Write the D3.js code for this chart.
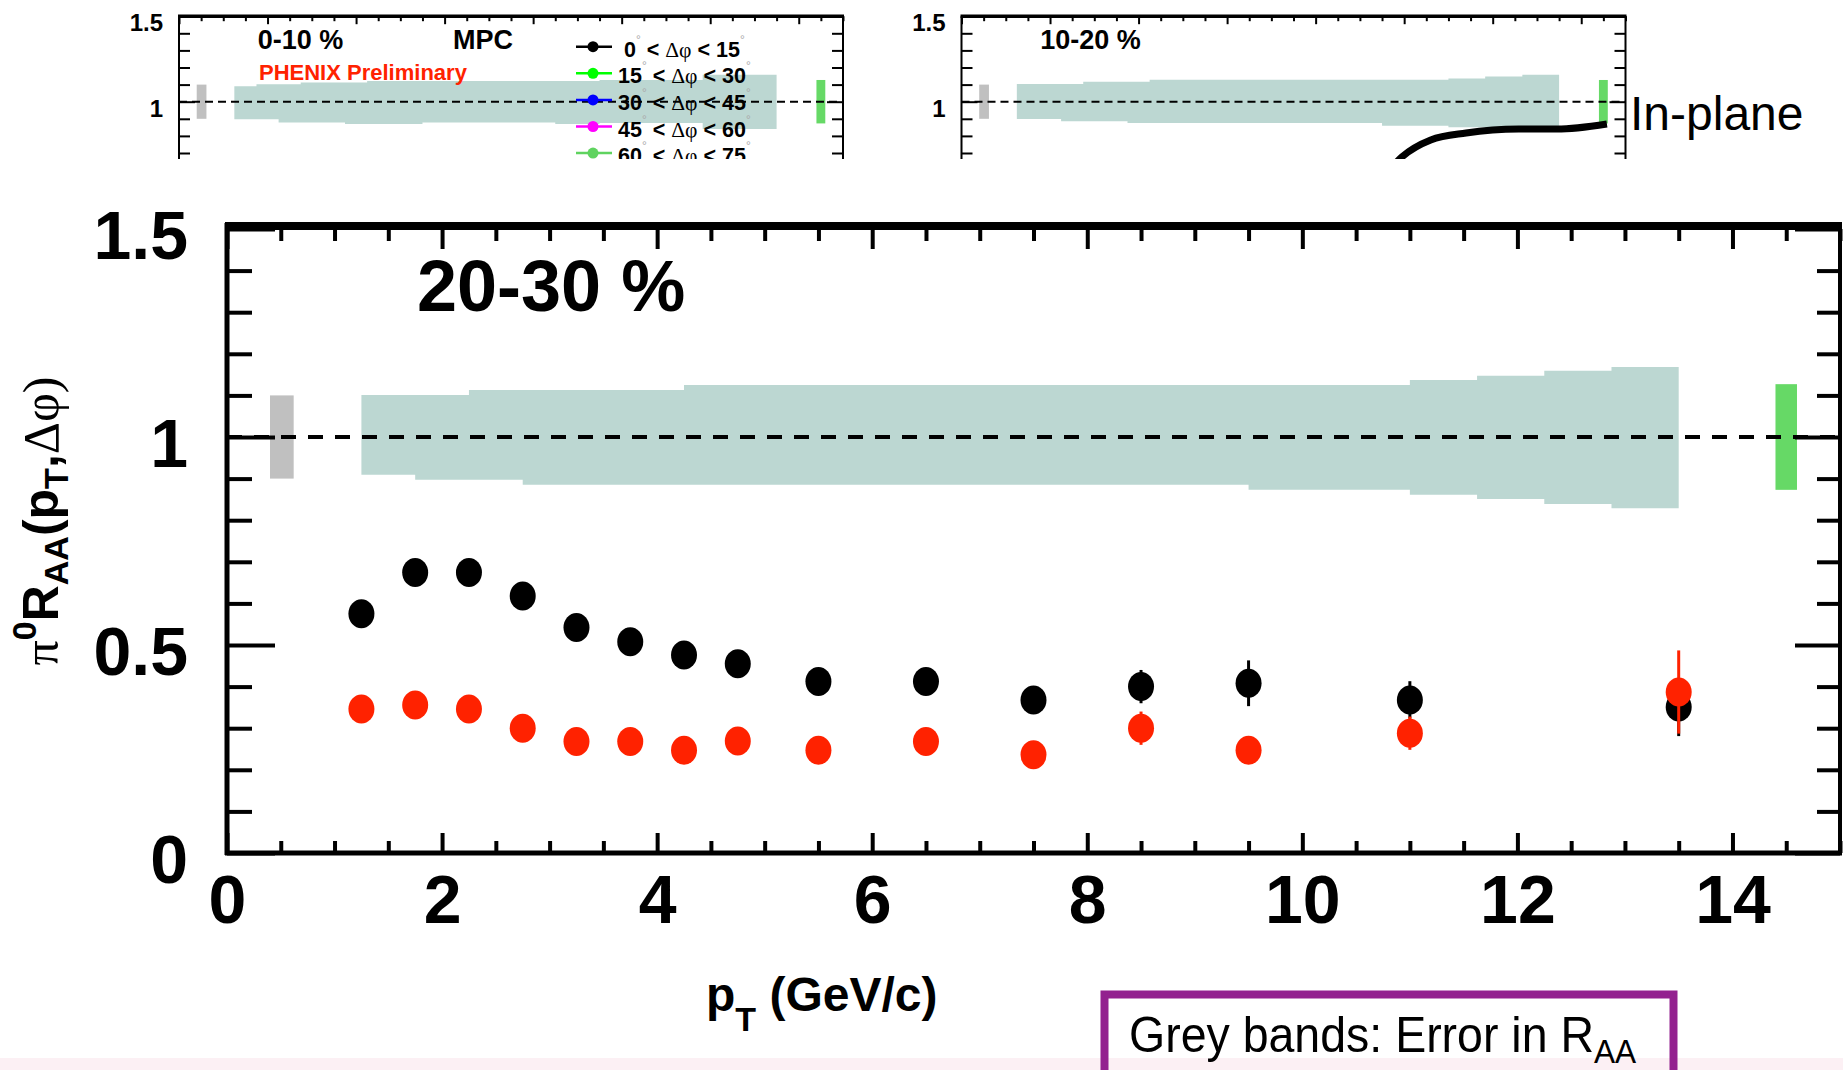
<!DOCTYPE html>
<html>
<head>
<meta charset="utf-8">
<script src="https://cdn.jsdelivr.net/npm/d3@7"></script>
<style>
html, body { margin: 0; padding: 0; background: #fff; }
svg { display: block; }
</style>
</head>
<body>
<svg id="chart" width="1843" height="1070"></svg>
<script>
const W = 1843, H = 1070;
const svg = d3.select("#chart");

const FONT = '"Liberation Sans", Arial, Helvetica, sans-serif';
const SERIF = '"Liberation Serif", "Times New Roman", serif';

// pT bin centres and R_AA values, 20-30 % main panel
const ptBins = [1.25, 1.75, 2.25, 2.75, 3.25, 3.75, 4.25, 4.75, 5.5, 6.5, 7.5, 8.5, 9.5, 11, 13.5];
const raaInPlane = [0.575, 0.674, 0.674, 0.618, 0.542, 0.508, 0.476, 0.455, 0.412, 0.412, 0.368, 0.400, 0.408, 0.368, 0.351];
const raaInPlaneErr = [0.015, 0.015, 0.015, 0.015, 0.015, 0.015, 0.015, 0.015, 0.015, 0.015, 0.02, 0.04, 0.055, 0.045, 0.07];
const raaOutPlane = [0.346, 0.356, 0.346, 0.300, 0.268, 0.268, 0.247, 0.269, 0.247, 0.268, 0.236, 0.300, 0.247, 0.288, 0.387];
const raaOutPlaneErr = [0.015, 0.015, 0.015, 0.015, 0.015, 0.015, 0.015, 0.015, 0.015, 0.015, 0.02, 0.04, 0.02, 0.04, 0.1];

// R_AA error band (step edges, upper and lower)
const mainBandEdges = [1.25, 1.75, 2.25, 2.75, 4.25, 9.5, 11, 11.625, 12.25, 12.875, 13.5];
const mainBandHi = [1.101, 1.101, 1.113, 1.113, 1.125, 1.125, 1.137, 1.147, 1.159, 1.168];
const mainBandLo = [0.909, 0.897, 0.897, 0.885, 0.885, 0.873, 0.861, 0.851, 0.839, 0.829];

const band010Edges = [1.25, 1.75, 2.25, 2.75, 3.75, 4.25, 5.5, 8.5, 9.5, 11.83, 13.5];
const band010Hi = [1.090, 1.102, 1.102, 1.113, 1.113, 1.121, 1.121, 1.121, 1.127, 1.157];
const band010Lo = [0.897, 0.897, 0.879, 0.879, 0.870, 0.870, 0.879, 0.870, 0.875, 0.840];

const band1020Edges = [1.25, 2.25, 2.75, 3.75, 4.25, 9.5, 11, 11.83, 12.67, 13.5];
const band1020Hi = [1.103, 1.103, 1.116, 1.116, 1.128, 1.128, 1.136, 1.147, 1.157];
const band1020Lo = [0.899, 0.886, 0.886, 0.876, 0.876, 0.860, 0.851, 0.841, 0.841];

// global normalisation boxes: [x0, x1, lo, hi]
const greyBox = [0.4, 0.62, 0.9, 1.1];
const greenBox = [14.4, 14.6, 0.873, 1.127];

// legend of the 0-10 % panel
const legendLo = [0, 15, 30, 45, 60];
const legendHi = [15, 30, 45, 60, 75];
const legendColors = ["#000000", "#00ff00", "#0000ff", "#ff00ff", "#5fd35f"];

// "In-plane" pointer curve, in 10-20 % panel coordinates
const pointerCurve = [[9.5, 0.55], [9.95, 0.677], [10.6, 0.776], [11.4, 0.817], [12.59, 0.840], [13.45, 0.840], [14.58, 0.870]];

const xMajor = d3.range(0, 15, 2);
const xMinor = d3.range(0, 15.001, 0.5).filter(v => Math.abs(v % 2) > 1e-9);
const yMajor = [0, 0.5, 1, 1.5];
const yMinor = d3.range(0, 16).map(v => v / 10).filter(v => Math.abs((v * 10) % 5) > 1e-9);

function stepArea(sx, sy, edges, hi, lo) {
  const pts = edges.map((e, i) => ({
    x: e,
    hi: hi[Math.min(i, hi.length - 1)],
    lo: lo[Math.min(i, lo.length - 1)]
  }));
  return d3.area().curve(d3.curveStepAfter)
    .x(d => sx(d.x)).y0(d => sy(d.lo)).y1(d => sy(d.hi))(pts);
}

function drawAxis(g, gen, pos, values, size, strokeW, fmt) {
  const a = g.append("g").attr("transform", pos)
    .call(gen.tickValues(values).tickSize(size).tickFormat(fmt || ""));
  a.select(".domain").remove();
  a.selectAll(".tick line").attr("stroke", "#000").attr("stroke-width", strokeW);
  return a;
}

// ---------- top row panels (cropped) ----------
svg.append("clipPath").attr("id", "topClip")
  .append("rect").attr("x", 0).attr("y", 0).attr("width", W).attr("height", 159);

function drawPanel(left, edges, hi, lo, title) {
  const px = d3.scaleLinear().domain([0, 15]).range([left, left + 664]);
  const py = d3.scaleLinear().domain([0, 1.5]).range([101.7 + 171, 16.2]);
  const g = svg.append("g").attr("clip-path", "url(#topClip)");

  g.append("path").attr("d", stepArea(px, py, edges, hi, lo)).attr("fill", "#bcd7d2");
  g.append("rect").attr("x", px(greyBox[0])).attr("width", px(greyBox[1]) - px(greyBox[0]))
    .attr("y", py(greyBox[3])).attr("height", py(greyBox[2]) - py(greyBox[3])).attr("fill", "#c0c0c0");
  g.append("rect").attr("x", px(greenBox[0])).attr("width", px(greenBox[1]) - px(greenBox[0]))
    .attr("y", py(greenBox[3])).attr("height", py(greenBox[2]) - py(greenBox[3])).attr("fill", "#66d966");
  g.append("line").attr("x1", px(0)).attr("x2", px(15)).attr("y1", py(1)).attr("y2", py(1))
    .attr("stroke", "#000").attr("stroke-width", 2).attr("stroke-dasharray", "8 5");

  drawAxis(g, d3.axisTop(px), `translate(0,${py(1.5)})`, xMajor, -8, 2);
  drawAxis(g, d3.axisTop(px), `translate(0,${py(1.5)})`, xMinor, -5, 2);
  const yl = drawAxis(g, d3.axisLeft(py), `translate(${px(0)},0)`, [1, 1.5], -16, 2, d => String(d));
  yl.selectAll(".tick text").attr("x", -16).attr("dy", "0.6em")
    .attr("font-family", FONT).attr("font-weight", "bold").attr("font-size", 24).attr("fill", "#000");
  drawAxis(g, d3.axisLeft(py), `translate(${px(0)},0)`, yMinor, -11, 2);
  drawAxis(g, d3.axisRight(py), `translate(${px(15)},0)`, [1, 1.5], -16, 2);
  drawAxis(g, d3.axisRight(py), `translate(${px(15)},0)`, yMinor, -11, 2);

  g.append("line").attr("x1", px(0) - 1).attr("x2", px(15) + 1).attr("y1", py(1.5)).attr("y2", py(1.5))
    .attr("stroke", "#000").attr("stroke-width", 3.5);
  g.append("line").attr("x1", px(0)).attr("x2", px(0)).attr("y1", py(1.5)).attr("y2", py(0))
    .attr("stroke", "#000").attr("stroke-width", 2);
  g.append("line").attr("x1", px(15)).attr("x2", px(15)).attr("y1", py(1.5)).attr("y2", py(0))
    .attr("stroke", "#000").attr("stroke-width", 2);

  g.append("text").attr("x", px(1.78)).attr("y", 49).text(title)
    .attr("font-family", FONT).attr("font-weight", "bold").attr("font-size", 27);

  return { g, px, py };
}

const p1 = drawPanel(179, band010Edges, band010Hi, band010Lo, "0-10 %");
p1.g.append("text").attr("x", 453).attr("y", 49).text("MPC")
  .attr("font-family", FONT).attr("font-weight", "bold").attr("font-size", 27);
p1.g.append("text").attr("x", 259).attr("y", 80).text("PHENIX Preliminary")
  .attr("font-family", FONT).attr("font-weight", "bold").attr("font-size", 22).attr("fill", "#ff2200");

// legend
legendLo.forEach((lo, i) => {
  const ly = 46.7 + i * 26.6;
  const c = legendColors[i];
  p1.g.append("line").attr("x1", 576).attr("x2", 612).attr("y1", ly).attr("y2", ly)
    .attr("stroke", c).attr("stroke-width", 2.5);
  p1.g.append("circle").attr("cx", 593).attr("cy", ly).attr("r", 5.5).attr("fill", c);
  const t = p1.g.append("text").attr("x", lo < 10 ? 624 : 618).attr("y", ly + 10)
    .attr("font-family", FONT).attr("font-weight", "bold").attr("font-size", 21.5).attr("fill", "#000");
  t.append("tspan").text(lo);
  t.append("tspan").attr("font-size", 12).attr("font-weight", "normal").attr("fill", "#aaa").attr("dy", -13).text("°");
  t.append("tspan").attr("dy", 13).text(" < ");
  t.append("tspan").attr("font-family", SERIF).attr("font-weight", "normal").text("Δφ");
  t.append("tspan").text(" < " + legendHi[i]);
  t.append("tspan").attr("font-size", 12).attr("font-weight", "normal").attr("fill", "#aaa").attr("dy", -13).text("°");
});

const p2 = drawPanel(961.5, band1020Edges, band1020Hi, band1020Lo, "10-20 %");
p2.g.append("path")
  .attr("d", d3.line().curve(d3.curveMonotoneX).x(d => p2.px(d[0])).y(d => p2.py(d[1]))(pointerCurve))
  .attr("fill", "none").attr("stroke", "#000").attr("stroke-width", 7);

svg.append("text").attr("x", 1630).attr("y", 130).text("In-plane")
  .attr("font-family", FONT).attr("font-size", 48).attr("fill", "#000");

// ---------- main panel 20-30 % ----------
const x = d3.scaleLinear().domain([0, 15]).range([227, 1840]);
const y = d3.scaleLinear().domain([0, 1.5]).range([853, 229]);
const gm = svg.append("g");

gm.append("path").attr("d", stepArea(x, y, mainBandEdges, mainBandHi, mainBandLo)).attr("fill", "#bcd7d2");
gm.append("rect").attr("x", x(greyBox[0])).attr("width", x(greyBox[1]) - x(greyBox[0]))
  .attr("y", y(greyBox[3])).attr("height", y(greyBox[2]) - y(greyBox[3])).attr("fill", "#c0c0c0");
gm.append("rect").attr("x", x(greenBox[0])).attr("width", x(greenBox[1]) - x(greenBox[0]))
  .attr("y", y(greenBox[3])).attr("height", y(greenBox[2]) - y(greenBox[3])).attr("fill", "#66d966");
gm.append("line").attr("x1", x(0)).attr("x2", x(15)).attr("y1", y(1)).attr("y2", y(1))
  .attr("stroke", "#000").attr("stroke-width", 4).attr("stroke-dasharray", "15 12");

// axes and ticks
const xb = drawAxis(gm, d3.axisBottom(x), `translate(0,${y(0)})`, xMajor, -20, 4, d => String(d));
xb.selectAll(".tick text").attr("y", 70).attr("dy", null)
  .attr("font-family", FONT).attr("font-weight", "bold").attr("font-size", 68).attr("fill", "#000");
drawAxis(gm, d3.axisBottom(x), `translate(0,${y(0)})`, xMinor, -12, 4);
drawAxis(gm, d3.axisTop(x), `translate(0,${y(1.5)})`, xMajor, -20, 4);
drawAxis(gm, d3.axisTop(x), `translate(0,${y(1.5)})`, xMinor, -12, 4);
const yl = drawAxis(gm, d3.axisLeft(y), `translate(${x(0)},0)`, yMajor, -48, 4, d => String(d));
yl.selectAll(".tick text").attr("x", -39).attr("dy", "0.43em")
  .attr("font-family", FONT).attr("font-weight", "bold").attr("font-size", 68).attr("fill", "#000");
drawAxis(gm, d3.axisLeft(y), `translate(${x(0)},0)`, yMinor, -25, 4);
drawAxis(gm, d3.axisRight(y), `translate(${x(15)},0)`, yMajor, -45, 4);
drawAxis(gm, d3.axisRight(y), `translate(${x(15)},0)`, yMinor, -23, 4);

// frame
gm.append("line").attr("x1", x(0) - 2).attr("x2", x(15) + 2).attr("y1", y(1.5) - 3).attr("y2", y(1.5) - 3)
  .attr("stroke", "#000").attr("stroke-width", 8);
gm.append("line").attr("x1", x(0) - 2).attr("x2", x(15) + 2).attr("y1", y(0)).attr("y2", y(0))
  .attr("stroke", "#000").attr("stroke-width", 5);
gm.append("line").attr("x1", x(0)).attr("x2", x(0)).attr("y1", y(1.5) - 6).attr("y2", y(0) + 2)
  .attr("stroke", "#000").attr("stroke-width", 5);
gm.append("line").attr("x1", x(15)).attr("x2", x(15)).attr("y1", y(1.5) - 6).attr("y2", y(0) + 2)
  .attr("stroke", "#000").attr("stroke-width", 4);

// data points
function drawSeries(vals, errs, color) {
  const pts = ptBins.map((p, i) => ({ p, v: vals[i], e: errs[i] }));
  gm.append("g").selectAll("line").data(pts).join("line")
    .attr("x1", d => x(d.p)).attr("x2", d => x(d.p))
    .attr("y1", d => y(d.v - d.e)).attr("y2", d => y(d.v + d.e))
    .attr("stroke", color).attr("stroke-width", 3);
  gm.append("g").selectAll("ellipse").data(pts).join("ellipse")
    .attr("cx", d => x(d.p)).attr("cy", d => y(d.v))
    .attr("rx", 13).attr("ry", 14.5).attr("fill", color);
}
drawSeries(raaInPlane, raaInPlaneErr, "#000000");
drawSeries(raaOutPlane, raaOutPlaneErr, "#ff2200");

gm.append("text").attr("x", 417).attr("y", 311).text("20-30 %")
  .attr("font-family", FONT).attr("font-weight", "bold").attr("font-size", 72);

// axis titles
const yt = svg.append("text").attr("transform", "translate(58,521) rotate(-90)")
  .attr("text-anchor", "middle").attr("font-family", FONT).attr("font-weight", "bold").attr("font-size", 50);
yt.append("tspan").attr("font-family", SERIF).attr("font-weight", "normal").text("π");
yt.append("tspan").attr("font-size", 34).attr("dy", -22).text("0");
yt.append("tspan").attr("dy", 22).text("R");
yt.append("tspan").attr("font-size", 34).attr("dy", 10).text("AA");
yt.append("tspan").attr("dy", -10).text("(p");
yt.append("tspan").attr("font-size", 34).attr("dy", 10).text("T");
yt.append("tspan").attr("dy", -10).text(",");
yt.append("tspan").attr("font-family", SERIF).attr("font-weight", "normal").text("Δφ)");

const xt = svg.append("text").attr("x", 706).attr("y", 1011)
  .attr("font-family", FONT).attr("font-weight", "bold").attr("font-size", 48);
xt.append("tspan").text("p");
xt.append("tspan").attr("font-size", 34).attr("dy", 20).text("T");
xt.append("tspan").attr("dy", -20).text(" (GeV/c)");

// ---------- slide footer ----------
svg.append("rect").attr("x", 0).attr("y", 1058).attr("width", W).attr("height", H - 1058).attr("fill", "#fcf0f4");
svg.append("rect").attr("x", 1104.5).attr("y", 994.5).attr("width", 569).attr("height", 120)
  .attr("fill", "none").attr("stroke", "#93218f").attr("stroke-width", 8);
const bt = svg.append("text").attr("transform", "translate(1129,1052) scale(0.93,1)")
  .attr("font-family", FONT).attr("font-size", 50).attr("fill", "#000");
bt.append("tspan").text("Grey bands: Error in R");
bt.append("tspan").attr("font-size", 34).attr("dy", 11).text("AA");
</script>
</body>
</html>
